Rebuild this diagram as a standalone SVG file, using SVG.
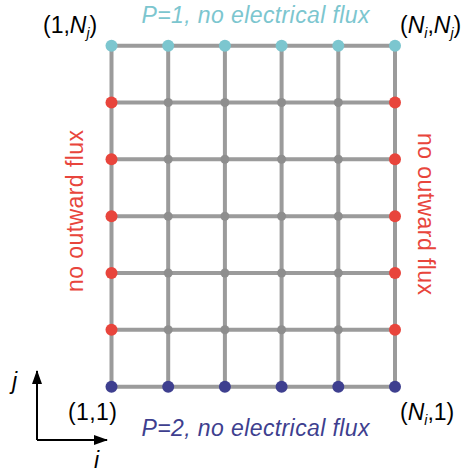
<svg xmlns="http://www.w3.org/2000/svg" width="461" height="473" viewBox="0 0 461 473">
<style>
text{font-family:"Liberation Sans",Arial,sans-serif;font-size:23px}
.it{font-style:italic}
.sb{font-size:14px;font-style:italic}
.g{stroke:#9b9b9b;stroke-width:4;fill:none}
.cy{fill:#7cc6cf}
.rd{fill:#e8453c}
.nv{fill:#3e3f8f}
.gy{fill:#8e8e8e}
.ax{stroke:#000;stroke-width:2;fill:none}
</style>
<defs>
<marker id="ah" viewBox="0 0 14 10" refX="13" refY="5" markerWidth="14" markerHeight="10" markerUnits="userSpaceOnUse" orient="auto">
<path d="M0,0 L14,5 L0,10 Z" fill="#000"/>
</marker>
</defs>
<rect width="461" height="473" fill="#fff"/>
<g id="connectors">
<path class="g" d="M111.5,45.7V386.7M168.2,45.7V386.7M224.9,45.7V386.7M281.6,45.7V386.7M338.3,45.7V386.7M395,45.7V386.7"/>
<path class="g" d="M111.5,45.7H395M111.5,102.5H395M111.5,159.3H395M111.5,216.2H395M111.5,273H395M111.5,329.8H395M111.5,386.7H395"/>
<path class="ax" d="M37,440V371" marker-end="url(#ah)"/>
<path class="ax" d="M37,440H107" marker-end="url(#ah)"/>
</g>
<g id="nodes-top">
<circle class="cy" cx="111.5" cy="45.7" r="6"/><circle class="cy" cx="168.2" cy="45.7" r="6"/><circle class="cy" cx="224.9" cy="45.7" r="6"/><circle class="cy" cx="281.6" cy="45.7" r="6"/><circle class="cy" cx="338.3" cy="45.7" r="6"/><circle class="cy" cx="395" cy="45.7" r="6"/>
</g>
<g id="nodes-bottom">
<circle class="nv" cx="111.5" cy="386.7" r="6"/><circle class="nv" cx="168.2" cy="386.7" r="6"/><circle class="nv" cx="224.9" cy="386.7" r="6"/><circle class="nv" cx="281.6" cy="386.7" r="6"/><circle class="nv" cx="338.3" cy="386.7" r="6"/><circle class="nv" cx="395" cy="386.7" r="6"/>
</g>
<g id="nodes-left">
<circle class="rd" cx="111.5" cy="102.5" r="6"/><circle class="rd" cx="111.5" cy="159.3" r="6"/><circle class="rd" cx="111.5" cy="216.2" r="6"/><circle class="rd" cx="111.5" cy="273" r="6"/><circle class="rd" cx="111.5" cy="329.8" r="6"/>
</g>
<g id="nodes-right">
<circle class="rd" cx="395" cy="102.5" r="6"/><circle class="rd" cx="395" cy="159.3" r="6"/><circle class="rd" cx="395" cy="216.2" r="6"/><circle class="rd" cx="395" cy="273" r="6"/><circle class="rd" cx="395" cy="329.8" r="6"/>
</g>
<g id="nodes-interior">
<circle class="gy" cx="168.2" cy="102.5" r="4.5"/><circle class="gy" cx="224.9" cy="102.5" r="4.5"/><circle class="gy" cx="281.6" cy="102.5" r="4.5"/><circle class="gy" cx="338.3" cy="102.5" r="4.5"/>
<circle class="gy" cx="168.2" cy="159.3" r="4.5"/><circle class="gy" cx="224.9" cy="159.3" r="4.5"/><circle class="gy" cx="281.6" cy="159.3" r="4.5"/><circle class="gy" cx="338.3" cy="159.3" r="4.5"/>
<circle class="gy" cx="168.2" cy="216.2" r="4.5"/><circle class="gy" cx="224.9" cy="216.2" r="4.5"/><circle class="gy" cx="281.6" cy="216.2" r="4.5"/><circle class="gy" cx="338.3" cy="216.2" r="4.5"/>
<circle class="gy" cx="168.2" cy="273" r="4.5"/><circle class="gy" cx="224.9" cy="273" r="4.5"/><circle class="gy" cx="281.6" cy="273" r="4.5"/><circle class="gy" cx="338.3" cy="273" r="4.5"/>
<circle class="gy" cx="168.2" cy="329.8" r="4.5"/><circle class="gy" cx="224.9" cy="329.8" r="4.5"/><circle class="gy" cx="281.6" cy="329.8" r="4.5"/><circle class="gy" cx="338.3" cy="329.8" r="4.5"/>
</g>
<g id="labels">
<text class="it" x="141.5" y="22.5" fill="#7cc6cf" textLength="228" lengthAdjust="spacing">P=1, no electrical flux</text>
<text class="it" x="141.5" y="435.5" fill="#3e3f8f" textLength="228" lengthAdjust="spacing">P=2, no electrical flux</text>
<text x="43" y="33">(1,<tspan class="it">N</tspan><tspan class="sb" dy="5">j</tspan><tspan dy="-5">)</tspan></text>
<text x="400" y="33">(<tspan class="it">N</tspan><tspan class="sb" dy="5">i</tspan><tspan dy="-5">,</tspan><tspan class="it">N</tspan><tspan class="sb" dy="5">j</tspan><tspan dy="-5">)</tspan></text>
<text x="68" y="420" textLength="49" lengthAdjust="spacing">(1,1)</text>
<text x="400" y="420">(<tspan class="it">N</tspan><tspan class="sb" dy="5">i</tspan><tspan dy="-5">,1)</tspan></text>
<text x="83" y="211" fill="#e8453c" text-anchor="middle" transform="rotate(-90 83 211)" textLength="162" lengthAdjust="spacing">no outward flux</text>
<text x="418" y="214" fill="#e8453c" text-anchor="middle" transform="rotate(90 418 214)" textLength="162" lengthAdjust="spacing">no outward flux</text>
<text class="it" x="12" y="389">j</text>
<text class="it" x="94" y="468">i</text>
</g>
</svg>
